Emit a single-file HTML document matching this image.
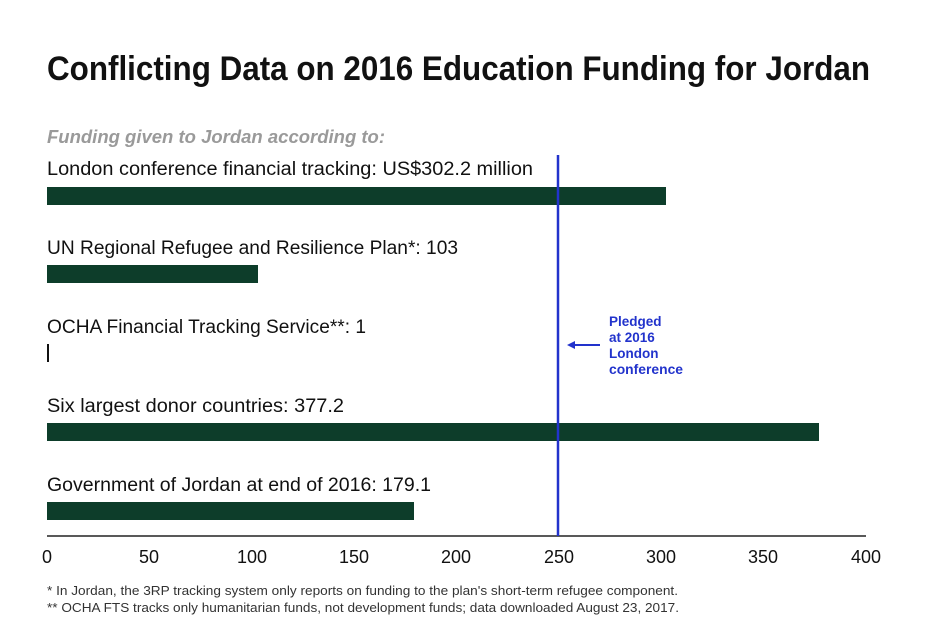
<!DOCTYPE html>
<html><head><style>body{margin:0;background:#fff}svg{display:block}</style></head><body>
<svg width="946" height="631" xmlns="http://www.w3.org/2000/svg" font-family="Liberation Sans, sans-serif">
<rect width="946" height="631" fill="#fff"/>
<text x="47" y="80" font-size="34" font-weight="bold" fill="#111" textLength="823" lengthAdjust="spacingAndGlyphs">Conflicting Data on 2016 Education Funding for Jordan</text>
<text x="47" y="143" font-size="18" font-weight="bold" font-style="italic" fill="#9a9a9a" textLength="338" lengthAdjust="spacingAndGlyphs">Funding given to Jordan according to:</text>
<g font-size="19" fill="#111">
<text x="47" y="175" textLength="486" lengthAdjust="spacingAndGlyphs">London conference financial tracking: US$302.2 million</text>
<text x="47" y="254" textLength="411" lengthAdjust="spacingAndGlyphs">UN Regional Refugee and Resilience Plan*: 103</text>
<text x="47" y="333" textLength="319" lengthAdjust="spacingAndGlyphs">OCHA Financial Tracking Service**: 1</text>
<text x="47" y="412" textLength="297" lengthAdjust="spacingAndGlyphs">Six largest donor countries: 377.2</text>
<text x="47" y="491" textLength="384" lengthAdjust="spacingAndGlyphs">Government of Jordan at end of 2016: 179.1</text>
</g>
<g fill="#0d3d2a">
<rect x="47" y="187" width="619" height="18"/>
<rect x="47" y="265" width="211" height="18"/>
<rect x="47" y="344" width="2" height="18" fill="#111"/>
<rect x="47" y="423" width="772" height="18"/>
<rect x="47" y="502" width="367" height="18"/>
</g>
<line x1="47" y1="536" x2="866" y2="536" stroke="#222" stroke-width="1.5"/>
<line x1="558" y1="155" x2="558" y2="536" stroke="#2233cc" stroke-width="2.5"/>
<line x1="572" y1="345" x2="600" y2="345" stroke="#2233cc" stroke-width="2"/>
<polygon points="567,345 575,341 575,349" fill="#2233cc"/>
<g font-size="13.5" font-weight="bold" fill="#2233cc">
<text x="609" y="326">Pledged</text>
<text x="609" y="342">at 2016</text>
<text x="609" y="358">London</text>
<text x="609" y="374" textLength="74" lengthAdjust="spacingAndGlyphs">conference</text>
</g>
<g font-size="18" fill="#111" text-anchor="middle">
<text x="47" y="563">0</text><text x="149" y="563">50</text><text x="252" y="563">100</text>
<text x="354" y="563">150</text><text x="456" y="563">200</text><text x="559" y="563">250</text>
<text x="661" y="563">300</text><text x="763" y="563">350</text><text x="866" y="563">400</text>
</g>
<g font-size="12.5" fill="#333">
<text x="47" y="595" textLength="631" lengthAdjust="spacingAndGlyphs">* In Jordan, the 3RP tracking system only reports on funding to the plan's short-term refugee component.</text>
<text x="47" y="612" textLength="632" lengthAdjust="spacingAndGlyphs">** OCHA FTS tracks only humanitarian funds, not development funds; data downloaded August 23, 2017.</text>
</g>
</svg>
</body></html>
